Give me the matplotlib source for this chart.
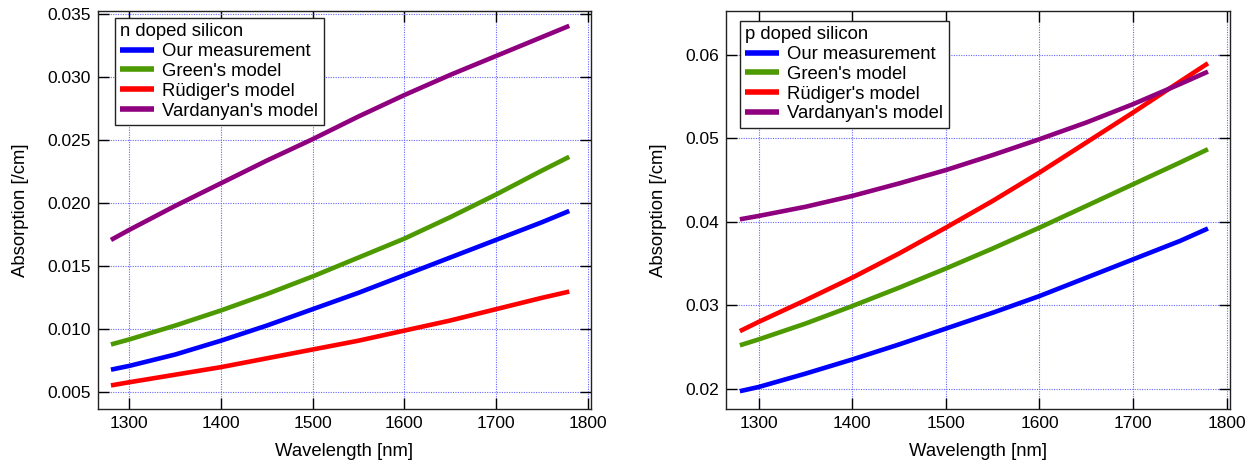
#!/usr/bin/env python3
"""
plot.py - absorption vs wavelength for n and p doped silicon
"""

import matplotlib
matplotlib.use('Agg')
import matplotlib.pyplot as plt

plt.rcParams['font.family'] = ['Liberation Sans', 'DejaVu Sans']

wavelength = [1280, 1300, 1350, 1400, 1450, 1500, 1550, 1600, 1650, 1700, 1750, 1780]

# n doped silicon
n_measured = [0.0068, 0.0071, 0.0080, 0.0091, 0.0103, 0.0116, 0.0129, 0.0143, 0.0157, 0.0171, 0.0185, 0.0194]
n_green = [0.0088, 0.0092, 0.0103, 0.0115, 0.0128, 0.0142, 0.0157, 0.0172, 0.0189, 0.0207, 0.0226, 0.0237]
n_rudiger = [0.00555, 0.0058, 0.0064, 0.0070, 0.0077, 0.0084, 0.0091, 0.0099, 0.0107, 0.0116, 0.0125, 0.0130]
n_vardanyan = [0.0171, 0.0179, 0.0198, 0.0216, 0.0234, 0.0251, 0.0269, 0.0286, 0.0302, 0.0317, 0.0332, 0.0341]

# p doped silicon
p_measured = [0.0197, 0.0202, 0.0218, 0.0235, 0.0253, 0.0272, 0.0291, 0.0311, 0.0333, 0.0355, 0.0377, 0.0392]
p_green = [0.0252, 0.0259, 0.0278, 0.0299, 0.0321, 0.0344, 0.0368, 0.0393, 0.0419, 0.0445, 0.0471, 0.0487]
p_rudiger = [0.0269, 0.0280, 0.0306, 0.0333, 0.0362, 0.0393, 0.0425, 0.0459, 0.0495, 0.0531, 0.0568, 0.0590]
p_vardanyan = [0.0403, 0.0407, 0.0418, 0.0431, 0.0446, 0.0462, 0.0480, 0.0499, 0.0519, 0.0541, 0.0565, 0.0580]

labels = ["Our measurement", "Green's model", "R\u00fcdiger's model", "Vardanyan's model"]
colors = ['#0000ff', '#4c9900', '#ff0000', '#8f007f']

x_ticks = [1300, 1400, 1500, 1600, 1700, 1800]
n_yticks = [0.005, 0.010, 0.015, 0.020, 0.025, 0.030, 0.035]
p_yticks = [0.02, 0.03, 0.04, 0.05, 0.06]


def draw_panel(ax, series, title, yticks, ylim, yfmt, leg_anchor):
    for y, lab, c in zip(series, labels, colors):
        ax.plot(wavelength, y, color=c, linewidth=3.3, label=lab, solid_capstyle='butt')
    ax.set_xlim(1265.5, 1803.5)
    ax.set_ylim(*ylim)
    ax.set_xticks(x_ticks)
    ax.set_yticks(yticks)
    ax.set_yticklabels([yfmt.format(v) for v in yticks])
    ax.grid(True, color='#6666ff', linestyle=(0, (1, 1.2)), linewidth=0.8)
    ax.tick_params(direction='in', length=8, width=1.0, top=True, right=True,
                   labelsize=12.5, pad=5)
    for s in ax.spines.values():
        s.set_linewidth(1.0)
        s.set_color('#222222')
    ax.set_xlabel('Wavelength [nm]', fontsize=13.3, labelpad=9)
    ax.set_ylabel('Absorption [/cm]', fontsize=13.3, labelpad=13)
    leg = ax.legend(loc='upper left', title=title, fontsize=13.3, title_fontsize=13.3,
                    fancybox=False, framealpha=1, edgecolor='#222222',
                    handlelength=1.8, handletextpad=0.45, borderpad=0.3,
                    labelspacing=0.15, borderaxespad=0,
                    bbox_to_anchor=leg_anchor)
    leg._legend_box.align = 'left'
    leg.get_frame().set_linewidth(1.0)
    for line in leg.get_lines():
        line.set_linewidth(4)


fig = plt.figure(figsize=(12.57, 4.68), dpi=100)
ax1 = fig.add_axes([0.0777, 0.1267, 0.3923, 0.8504])
ax2 = fig.add_axes([0.5778, 0.1267, 0.4007, 0.8504])

draw_panel(ax1, [n_measured, n_green, n_rudiger, n_vardanyan], 'n doped silicon',
           n_yticks, (0.0037, 0.0353), '{:.3f}', (0.035, 0.982))
draw_panel(ax2, [p_measured, p_green, p_rudiger, p_vardanyan], 'p doped silicon',
           p_yticks, (0.0176, 0.0653), '{:.2f}', (0.027, 0.975))

fig.savefig('out.png', dpi=100)
